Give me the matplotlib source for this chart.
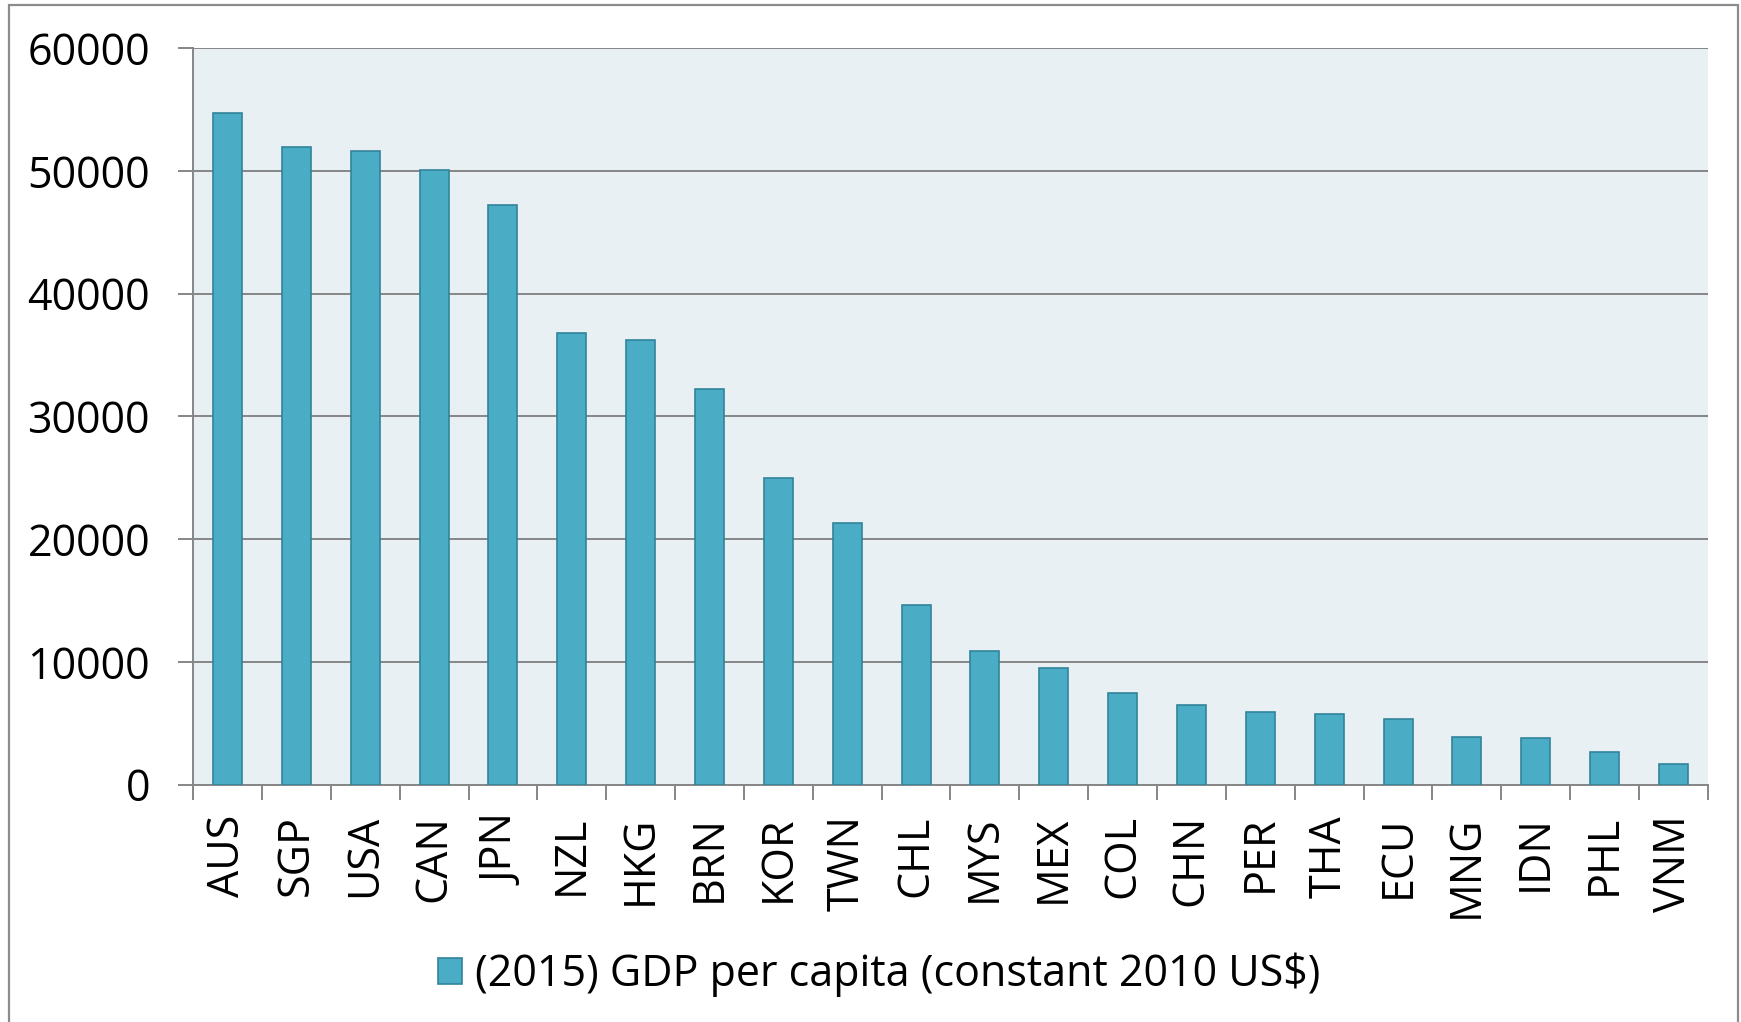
import numpy as np
import matplotlib
matplotlib.use("Agg")
import matplotlib.pyplot as plt
from matplotlib.patches import Rectangle

countries = ["AUS", "SGP", "USA", "CAN", "JPN", "NZL", "HKG", "BRN", "KOR", "TWN", "CHL",
             "MYS", "MEX", "COL", "CHN", "PER", "THA", "ECU", "MNG", "IDN", "PHL", "VNM"]
gdp_pc = [54700, 51900, 51650, 50100, 47200, 36800, 36200, 32200, 25000, 21350, 14650,
          10900, 9500, 7450, 6500, 5900, 5750, 5350, 3920, 3830, 2640, 1660]
yticks = [0, 10000, 20000, 30000, 40000, 50000, 60000]
legend_label = "(2015) GDP per capita (constant 2010 US$)"

BAR = "#4BACC6"
EDGE = "#31849B"
GRID = "#868686"
plt.rcParams["font.family"] = ["Open Sans", "DejaVu Sans"]

fig = plt.figure(figsize=(17.41, 10.22), dpi=100)
ax = fig.add_axes([0.1109, 0.2322, 0.8701, 0.7208])
ax.set_facecolor("#E8F0F4")

x = np.arange(len(countries))
ax.bar(x, gdp_pc, width=0.42, color=BAR, edgecolor=EDGE, linewidth=1.2,
       label=legend_label, zorder=3)

ax.set_xlim(-0.5, len(countries) - 0.5)
ax.set_ylim(0, 60000)
ax.set_yticks(yticks)
ax.set_yticklabels([str(v) for v in yticks], fontsize=31)
ax.yaxis.grid(True, color=GRID, linewidth=1.4, zorder=1)

# category boundaries carry the ticks, labels sit on the minor ticks at bar centres
ax.set_xticks(list(x - 0.5) + [len(countries) - 0.5])
ax.set_xticklabels([])
ax.set_xticks(x, minor=True)
ax.set_xticklabels(countries, minor=True, rotation=90, fontsize=31, va="top")
ax.tick_params(axis="x", which="minor", length=0, pad=22)
ax.tick_params(axis="x", which="major", length=11, width=1.4, color=GRID)
ax.tick_params(axis="y", length=11, width=1.4, color=GRID, pad=20)

for s in ["top", "right"]:
    ax.spines[s].set_visible(False)
for s in ["left", "bottom"]:
    ax.spines[s].set_color(GRID)
    ax.spines[s].set_linewidth(1.4)
ax.set_axisbelow(True)

fig.legend(loc="center", bbox_to_anchor=(0.505, 0.046), frameon=False, fontsize=31,
           handlelength=0.55, handleheight=0.55, handletextpad=0.3)

fig.patches.append(Rectangle((0.005, -0.02), 0.993, 1.015, transform=fig.transFigure,
                             fill=False, edgecolor="#8C8C8C", linewidth=1.6))

fig.savefig("out.png", dpi=100)
